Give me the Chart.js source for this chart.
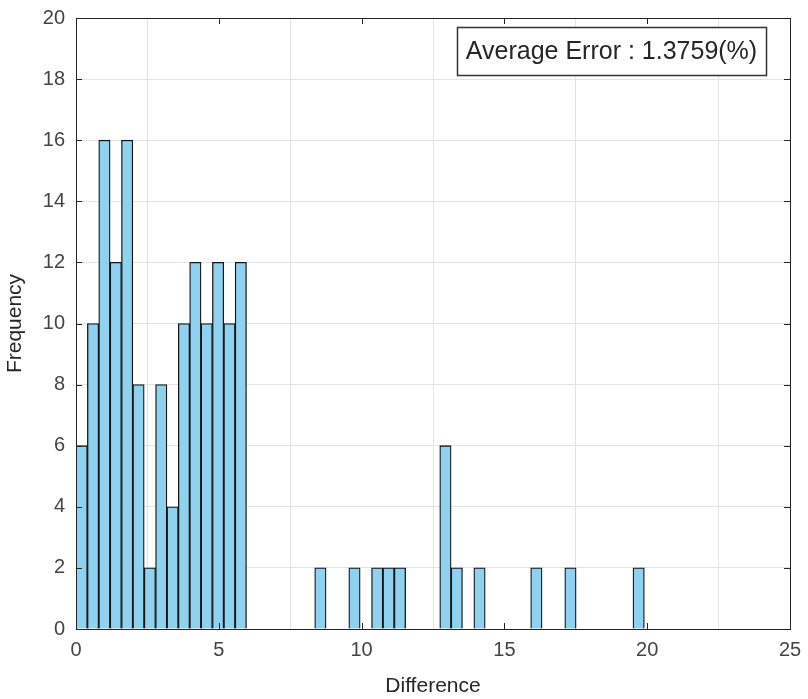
<!DOCTYPE html>
<html>
<head>
<meta charset="utf-8">
<script src="https://cdn.jsdelivr.net/npm/chart.js@4.4.0/dist/chart.umd.min.js"></script>
<style>
  html, body { margin: 0; padding: 0; background: #fff; }
  canvas { display: block; }
</style>
</head>
<body>
<canvas id="myChart" width="808" height="699"></canvas>
<script>
// histogram: 50 bins from 0 to 19.9
const binStart = 0;
const binWidth = 0.398;
const counts = [6,10,16,12,16,8,2,8,4,10,12,10,12,10,12,
                0,0,0,0,0,0, 2, 0,0, 2, 0, 2,2,2, 0,0,0, 6,2, 0, 2,
                0,0,0,0, 2, 0,0, 2, 0,0,0,0,0, 2];
const xTicks = [0, 5, 10, 15, 20, 25];
const yTicks = [0, 2, 4, 6, 8, 10, 12, 14, 16, 18, 20];
const avgError = '1.3759';

const points = [];
counts.forEach((c, i) => {
    if (c > 0) points.push({ x: binStart + (i + 0.5) * binWidth, y: c });
});

const fontFamily = '"Liberation Sans", Arial, sans-serif';
const axisColor = '#262626';
const tickColor = '#444';

// frame, inward ticks and the text box
const matlabBox = {
    id: 'matlabBox',
    afterDraw(chart) {
        const { ctx, chartArea: a, scales } = chart;
        ctx.save();
        ctx.strokeStyle = axisColor;
        ctx.lineWidth = 1;
        ctx.beginPath();
        xTicks.forEach(v => {
            const px = Math.round(scales.x.getPixelForValue(v)) + 0.5;
            ctx.moveTo(px, a.bottom); ctx.lineTo(px, a.bottom - 6);
            ctx.moveTo(px, a.top); ctx.lineTo(px, a.top + 6);
        });
        yTicks.forEach(v => {
            const py = Math.round(scales.y.getPixelForValue(v)) + 0.5;
            ctx.moveTo(a.left, py); ctx.lineTo(a.left + 6, py);
            ctx.moveTo(a.right, py); ctx.lineTo(a.right - 6, py);
        });
        ctx.stroke();
        ctx.strokeRect(Math.round(a.left) + 0.5, Math.round(a.top) + 0.5,
                       Math.round(a.right - a.left), Math.round(a.bottom - a.top));

        // annotation
        const bx = 457, by = 27, bw = 309, bh = 48;
        ctx.fillStyle = '#fff';
        ctx.fillRect(bx, by, bw, bh);
        ctx.lineWidth = 1.5;
        ctx.strokeStyle = '#333';
        ctx.strokeRect(bx + 0.5, by + 0.5, bw, bh);
        ctx.fillStyle = '#262626';
        ctx.font = '25px ' + fontFamily;
        ctx.textAlign = 'center';
        ctx.textBaseline = 'middle';
        ctx.fillText('Average Error : ' + avgError + '(%)', bx + bw / 2, by + bh / 2 + 1);
        ctx.restore();
    }
};

new Chart(document.getElementById('myChart'), {
    type: 'bar',
    data: {
        datasets: [{
            data: points,
            backgroundColor: '#8fd2ef',
            borderColor: '#151515',
            borderWidth: 1.3,
            barPercentage: 1,
            categoryPercentage: 1,
            grouped: false
        }]
    },
    options: {
        responsive: false,
        animation: false,
        layout: { padding: { top: 18, right: 18, left: 0, bottom: 0 } },
        plugins: {
            legend: { display: false },
            tooltip: { enabled: false }
        },
        scales: {
            x: {
                type: 'linear',
                min: 0,
                max: 25,
                offset: false,
                afterBuildTicks: s => { s.ticks = xTicks.map(v => ({ value: v })); },
                afterFit: s => { s.height = 70; s.paddingLeft = 0; s.paddingRight = 0; },
                ticks: {
                    color: tickColor,
                    font: { family: fontFamily, size: 20 },
                    padding: 9,
                    maxRotation: 0
                },
                grid: { color: '#e3e3e3', drawTicks: false },
                border: { display: true, color: axisColor },
                title: {
                    display: true,
                    text: 'Difference',
                    color: axisColor,
                    font: { family: fontFamily, size: 21 },
                    padding: { top: 0, bottom: 0 }
                }
            },
            y: {
                min: 0,
                max: 20,
                afterBuildTicks: s => { s.ticks = yTicks.map(v => ({ value: v })); },
                afterFit: s => { s.width = 76; s.paddingTop = 0; s.paddingBottom = 0; },
                ticks: {
                    color: tickColor,
                    font: { family: fontFamily, size: 20 },
                    padding: 11
                },
                grid: { color: '#e3e3e3', drawTicks: false },
                border: { display: true, color: axisColor },
                title: {
                    display: true,
                    text: 'Frequency',
                    color: axisColor,
                    font: { family: fontFamily, size: 21 },
                    padding: { top: 3, bottom: 0 }
                }
            }
        }
    },
    plugins: [matlabBox]
});
</script>
</body>
</html>
